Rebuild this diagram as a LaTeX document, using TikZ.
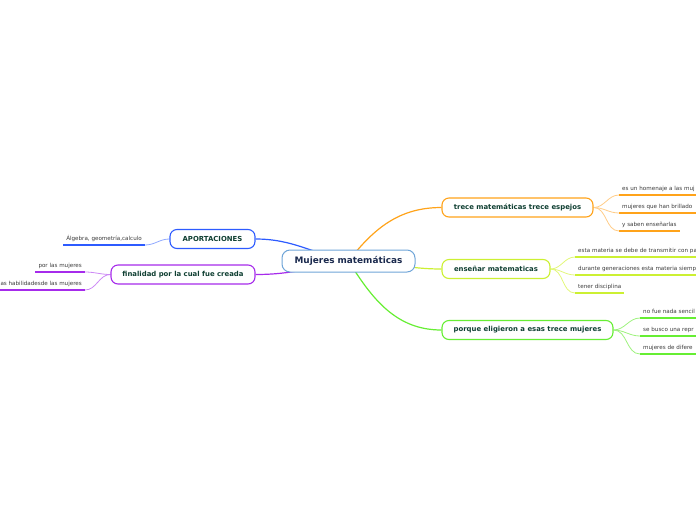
\documentclass[tikz,border=0pt]{standalone}
\usepackage{fontspec}
\setmainfont{DejaVu Sans}
\usetikzlibrary{positioning}
\pgfdeclarelayer{background}
\pgfsetlayers{background,main}

\definecolor{navy}{HTML}{1B2A4E}
\definecolor{deepteal}{HTML}{0F3F32}
\definecolor{leafgray}{HTML}{3A3A3A}
\definecolor{skyline}{HTML}{6FA5D8}
\definecolor{tblue}{HTML}{2D5BFF}
\definecolor{tbluel}{HTML}{8FA8FF}
\definecolor{tpurple}{HTML}{A62BEB}
\definecolor{tpurplel}{HTML}{CC88F5}
\definecolor{torange}{HTML}{FFA31A}
\definecolor{torangel}{HTML}{FFCC88}
\definecolor{tyellow}{HTML}{CCF032}
\definecolor{tyellowl}{HTML}{E2F77A}
\definecolor{tgreen}{HTML}{66EE33}
\definecolor{tgreenl}{HTML}{9EF27E}

\tikzset{
  main/.style={draw=skyline, fill=white, rounded corners=8pt, line width=1pt,
    font=\bfseries\fontsize{8.9}{10}\selectfont, text=navy,
    minimum height=22pt, inner sep=0pt},
  branch/.style={fill=white, rounded corners=7pt, line width=1.1pt,
    font=\bfseries\fontsize{6.9}{8}\selectfont, text=deepteal,
    minimum height=19pt, inner sep=0pt},
  leaf/.style={font=\fontsize{5.6}{6}\selectfont, text=leafgray,
    inner xsep=3pt, inner ysep=2.5pt, text height=4.2pt, text depth=1.5pt},
  cut/.style={leaf, text width=90pt},
  uline/.style={line width=1.8pt},
  limb/.style={line width=1.2pt},
  twig/.style={line width=0.8pt}
}

\begin{document}
\begin{tikzpicture}[x=1pt,y=-1pt]
\useasboundingbox (0,0) rectangle (696,520);
\clip (0,0) rectangle (696,520);

\node[main, minimum width=133pt] (M) at (348.5,261) {Mujeres matemáticas};

\node[branch, draw=tblue, minimum width=85pt] (A) at (212.5,239) {APORTACIONES};
\node[branch, draw=tpurple, minimum width=144pt] (F) at (183,274.5) {finalidad por la cual fue creada};
\node[branch, draw=torange, minimum width=151pt] (T) at (517.5,207.5) {trece matemáticas trece espejos};
\node[branch, draw=tyellow, minimum width=108pt] (E) at (496,269) {enseñar matematicas};
\node[branch, draw=tgreen, minimum width=171pt] (P) at (527.5,330) {porque eligieron a esas trece mujeres};

\node[leaf, anchor=south east] (A1) at (145,245) {Álgebra, geometría,calculo};
\node[leaf, anchor=south east] (F1) at (85,272) {por las mujeres};
\node[leaf, anchor=south east] (F2) at (85,290) {las habilidadesde las mujeres};

\node[cut, anchor=south west] (T1) at (619,195) {es un homenaje a las muj};
\node[cut, anchor=south west] (T2) at (619,213) {mujeres que han brillado};
\node[leaf, anchor=south west] (T3) at (619,231) {y saben enseñarlas};

\node[cut, text width=130pt, anchor=south west] (E1) at (575,257) {esta materia se debe de transmitir con pa};
\node[cut, text width=130pt, anchor=south west] (E2) at (575,275) {durante generaciones esta materia siemp};
\node[leaf, anchor=south west] (E3) at (575,293) {tener disciplina};

\node[cut, anchor=south west] (P1) at (640,318) {no fue nada sencil};
\node[cut, anchor=south west] (P2) at (640,336) {se busco una repr};
\node[cut, anchor=south west] (P3) at (640,354) {mujeres de difere};

\draw[uline, tblue] (A1.south west) -- (A1.south east);
\draw[uline, tpurple] (F1.south west) -- (F1.south east);
\draw[uline, tpurple] (F2.south west) -- (F2.south east);
\draw[uline, torange] (T1.south west) -- (T1.south east);
\draw[uline, torange] (T2.south west) -- (T2.south east);
\draw[uline, torange] (T3.south west) -- (T3.south east);
\draw[uline, tyellow] (E1.south west) -- (E1.south east);
\draw[uline, tyellow] (E2.south west) -- (E2.south east);
\draw[uline, tyellow] (E3.south west) -- (E3.south east);
\draw[uline, tgreen] (P1.south west) -- (P1.south east);
\draw[uline, tgreen] (P2.south west) -- (P2.south east);
\draw[uline, tgreen] (P3.south west) -- (P3.south east);

\begin{pgfonlayer}{background}
\draw[limb, tblue] (A.east) to[out=0,in=168] (M.center);
\draw[limb, tpurple] (F.east) to[out=0,in=190] (M.center);
\draw[limb, torange] (M.center) to[out=52,in=180] (T.west);
\draw[limb, tyellow] (M.center) to[out=0,in=180] (E.west);
\draw[limb, tgreen] (M.center) to[out=-58,in=180] (P.west);

\draw[twig, tbluel] (A.west) to[out=180,in=0] (A1.south east);
\draw[twig, tpurplel] (F.west) to[out=180,in=0] (F1.south east);
\draw[twig, tpurplel] (F.west) to[out=180,in=0] (F2.south east);
\draw[twig, torangel] (T.east) to[out=0,in=180] (T1.south west);
\draw[twig, torangel] (T.east) to[out=0,in=180] (T2.south west);
\draw[twig, torangel] (T.east) to[out=0,in=180] (T3.south west);
\draw[twig, tyellowl] (E.east) to[out=0,in=180] (E1.south west);
\draw[twig, tyellowl] (E.east) to[out=0,in=180] (E2.south west);
\draw[twig, tyellowl] (E.east) to[out=0,in=180] (E3.south west);
\draw[twig, tgreenl] (P.east) to[out=0,in=180] (P1.south west);
\draw[twig, tgreenl] (P.east) to[out=0,in=180] (P2.south west);
\draw[twig, tgreenl] (P.east) to[out=0,in=180] (P3.south west);
\end{pgfonlayer}
\end{tikzpicture}
\end{document}
